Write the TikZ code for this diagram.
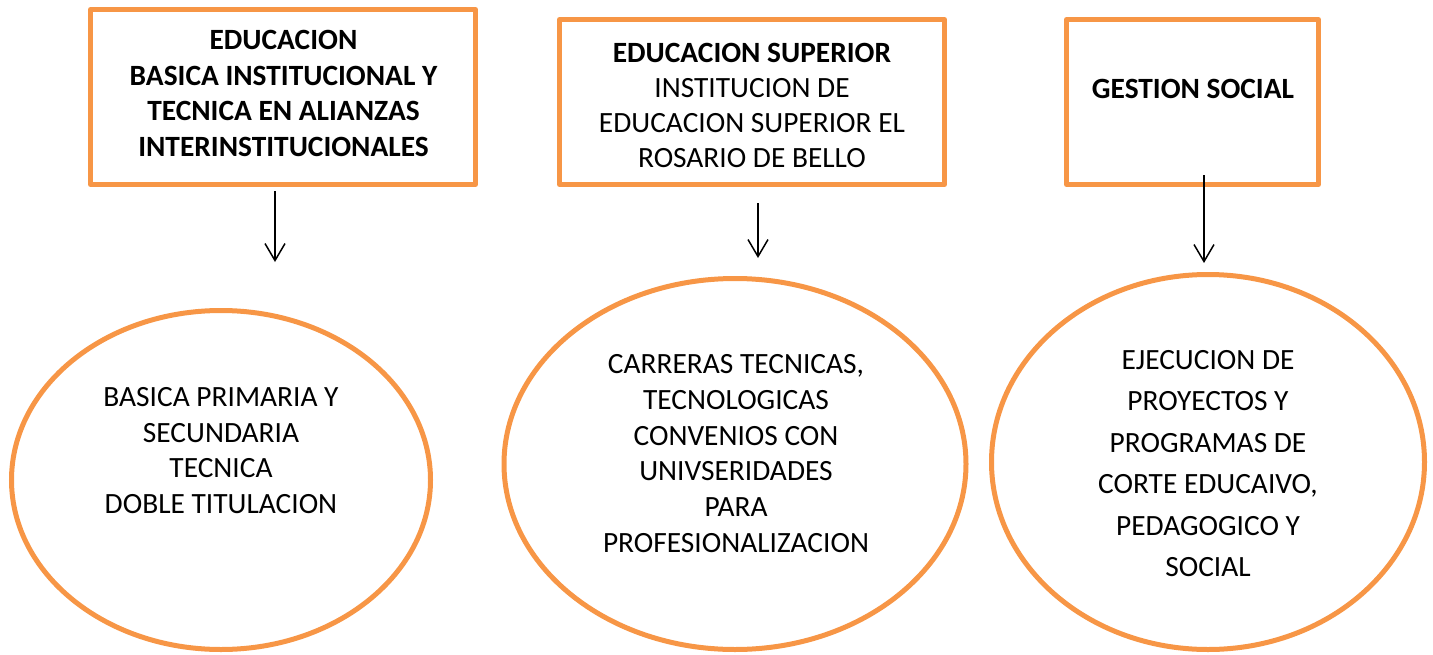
\documentclass[tikz,border=0pt]{standalone}
\usepackage{fontspec}
\setmainfont{Carlito}
\usepackage{tikz}
\usetikzlibrary{arrows.meta,positioning,shapes.geometric}
\definecolor{naranja}{HTML}{F79646}
\tikzset{
    caja/.style={draw=naranja, line width=5pt, line join=round, inner sep=0pt},
    ovalo/.style={ellipse, draw=naranja, line width=5pt, inner sep=0pt},
    texto/.style={align=center, inner sep=0pt, font=\fontsize{29.4}{35.7}\selectfont},
    negrita/.style={texto, font=\fontsize{29.4}{35.7}\selectfont\bfseries},
    flecha/.style={-{Straight Barb[length=17pt,width=20pt]}, line width=1.5pt}
}

\begin{document}
\begin{tikzpicture}[x=1pt,y=-1pt]
    \useasboundingbox (0,0) rectangle (1433,654);
    \node[caja, minimum width=385pt, minimum height=175pt] (cbasica) at (283,97) {};
    \node[caja, minimum width=385pt, minimum height=165pt] (csuperior) at (752,102) {};
    \node[caja, minimum width=252pt, minimum height=165pt] (cgestion) at (1192.5,102) {};
    \node[negrita] (tbasica) at (283.5,93.5) {EDUCACION\\ BASICA INSTITUCIONAL Y\\ TECNICA EN ALIANZAS\\ INTERINSTITUCIONALES};
    \node[texto, font=\fontsize{29.4}{35}\selectfont] (tsuperior) at (752,105) {{\bfseries EDUCACION SUPERIOR}\\ INSTITUCION DE\\ EDUCACION SUPERIOR EL\\ ROSARIO DE BELLO};
    \node[negrita] (tgestion) at (1193,89) {GESTION SOCIAL};
    \foreach \x/\ya/\yb [count=\i] in {275/191/262, 758/203/258, 1204/175/263}{
            \coordinate (s\i) at (\x,\ya);
            \coordinate (e\i) at (\x,\yb);
            \draw[flecha] (s\i) -- (e\i);
        }
    \node[ovalo, minimum width=419pt, minimum height=339pt] (obasica) at (221,480) {};
    \node[ovalo, minimum width=462pt, minimum height=371pt] (osuperior) at (735,464) {};
    \node[ovalo, minimum width=433pt, minimum height=375pt] (ogestion) at (1208,462) {};
    \node[texto] (pbasica) at (221,450.5) {BASICA PRIMARIA Y\\ SECUNDARIA\\ TECNICA\\ DOBLE TITULACION};
    \node[texto] (psuperior) at (736,453.5) {CARRERAS TECNICAS,\\ TECNOLOGICAS\\ CONVENIOS CON\\ UNIVSERIDADES\\ PARA\\ PROFESIONALIZACION};
    \node[texto, font=\fontsize{29.4}{41.5}\selectfont] (pgestion) at (1208,463.5) {EJECUCION DE\\ PROYECTOS Y\\ PROGRAMAS DE\\ CORTE EDUCAIVO,\\ PEDAGOGICO Y\\ SOCIAL};
\end{tikzpicture}
\end{document}
